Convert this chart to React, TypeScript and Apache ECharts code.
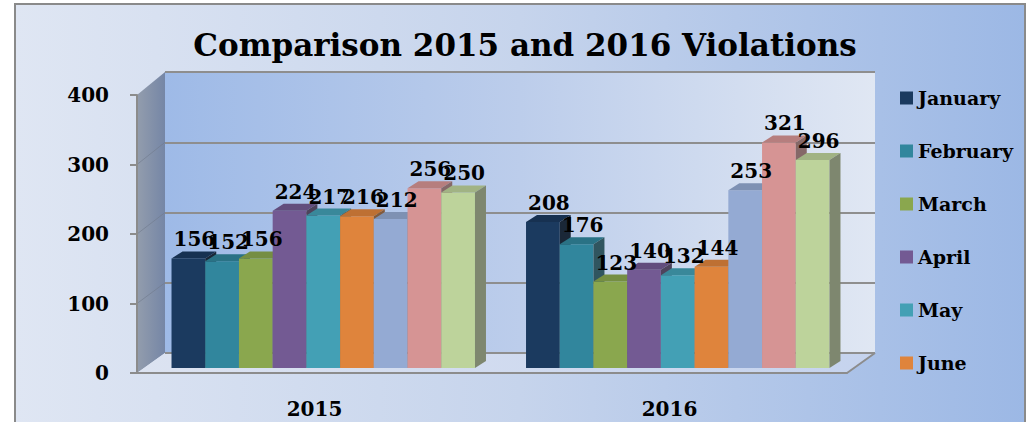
import React, { useEffect, useRef } from "react";
import * as echarts from "echarts";

const years = ["2015", "2016"];
const months = ["January", "February", "March", "April", "May", "June", "July", "August", "September"];
const values2015 = [156, 152, 156, 224, 217, 216, 212, 256, 250];
const values2016 = [208, 176, 123, 140, 132, 144, 253, 321, 296];
const legendMonths = ["January", "February", "March", "April", "May", "June"];
const yTicks = { min: 0, max: 400, interval: 100 };

const colors = ["#1B3A5F", "#31869D", "#8AA74E", "#735A93", "#43A0B5", "#DF843C", "#94AAD3", "#D69494", "#BDD39B"];

const W = 1026;
const H = 422;
const FONT = '"DejaVu Serif", serif';
const FRONT = { left: 137, right: 847, top: 95, base: 373 };
const BACK = { left: 165, right: 875, top: 72, base: 353 };
const BARS = { left: 146, right: 855, top: 87, base: 368 };
const GROUP_RATIO = 0.856;
const DX = 11;
const DY = -7;

function shade(hex: string, f: number, grey = 0) {
  const n = parseInt(hex.slice(1), 16);
  let r = (n >> 16) & 255;
  let g = (n >> 8) & 255;
  let b = n & 255;
  const avg = (r + g + b) / 3;
  r = (r * (1 - grey) + avg * grey) * (1 - f);
  g = (g * (1 - grey) + avg * grey) * (1 - f);
  b = (b * (1 - grey) + avg * grey) * (1 - f);
  return `rgb(${Math.round(r)},${Math.round(g)},${Math.round(b)})`;
}

export default function App() {
  const ref = useRef<HTMLDivElement>(null);
  useEffect(() => {
    document.body.style.margin = "0";
    const chart = echarts.init(ref.current!, null, { renderer: "svg" });

    const barSeries = months.map((m, i) => ({
      type: "custom",
      name: m,
      xAxisIndex: 0,
      yAxisIndex: 0,
      z: 2,
      itemStyle: { color: colors[i] },
      data: [
        [0, values2015[i]],
        [1, values2016[i]],
      ],
      renderItem: (params: any, api: any) => {
        const cat = api.value(0);
        const v = api.value(1);
        const base = api.coord([cat, 0]);
        const top = api.coord([cat, v]);
        const band = api.size([1, 0])[0];
        const gw = band * GROUP_RATIO;
        const bw = gw / months.length;
        const x0 = base[0] - gw / 2 + i * bw;
        const by = base[1];
        const ty = top[1];
        const c = colors[i];
        const topC = shade(c, 0.15);
        const sideC = shade(c, 0.33, 0.35);
        return {
          type: "group",
          children: [
            { type: "rect", shape: { x: x0, y: ty, width: bw, height: by - ty }, style: { fill: c } },
            {
              type: "polygon",
              shape: { points: [[x0, ty], [x0 + DX, ty + DY], [x0 + bw + DX, ty + DY], [x0 + bw, ty]] },
              style: { fill: topC },
            },
            {
              type: "polygon",
              shape: { points: [[x0 + bw, ty], [x0 + bw + DX, ty + DY], [x0 + bw + DX, by + DY], [x0 + bw, by]] },
              style: { fill: sideC },
            },
          ],
        };
      },
    }));

    const labelData: number[][] = [];
    months.forEach((_, i) => {
      labelData.push([0, i, values2015[i]]);
      labelData.push([1, i, values2016[i]]);
    });

    const labelSeries = {
      type: "custom",
      name: "labels",
      xAxisIndex: 0,
      yAxisIndex: 0,
      z: 5,
      encode: { x: 0, y: 2 },
      data: labelData,
      renderItem: (params: any, api: any) => {
        const i = api.value(1);
        const cat = api.value(0);
        const v = api.value(2);
        const base = api.coord([cat, 0]);
        const top = api.coord([cat, v]);
        const band = api.size([1, 0])[0];
        const gw = band * GROUP_RATIO;
        const bw = gw / months.length;
        const x0 = base[0] - gw / 2 + i * bw;
        return {
          type: "text",
          style: {
            text: String(v),
            x: x0 + bw / 2 + 6,
            y: top[1] - 9,
            align: "center",
            verticalAlign: "bottom",
            fontFamily: FONT,
            fontWeight: "bold",
            fontSize: 20,
            fill: "#000",
          },
        };
      },
    };

    const sideLines: any[] = [];
    const fScale = (FRONT.base - FRONT.top) / (yTicks.max - yTicks.min);
    const bScale = (BACK.base - BACK.top) / (yTicks.max - yTicks.min);
    for (let t = yTicks.min + yTicks.interval; t < yTicks.max; t += yTicks.interval) {
      sideLines.push({
        type: "line",
        z: -5,
        shape: { x1: FRONT.left, y1: FRONT.base - t * fScale, x2: BACK.left, y2: BACK.base - t * bScale },
        style: { stroke: "#6F7A8C", lineWidth: 1, opacity: 0.6 },
      });
    }

    const option: any = {
      animation: false,
      title: {
        text: "Comparison 2015 and 2016 Violations",
        left: 520,
        top: 24,
        textAlign: "center",
        textStyle: { fontFamily: FONT, fontWeight: "bold", fontSize: 31, color: "#000" },
      },
      legend: {
        data: legendMonths,
        orient: "vertical",
        left: 895,
        top: 83,
        icon: "rect",
        itemWidth: 13,
        itemHeight: 13,
        itemGap: 33,
        itemTextGap: 6,
        textStyle: { fontFamily: FONT, fontWeight: "bold", fontSize: 19, color: "#000", lineHeight: 20 },
      },
      grid: [
        { left: BARS.left, right: W - BARS.right, top: BARS.top, bottom: H - BARS.base },
        { left: FRONT.left, right: W - FRONT.right, top: FRONT.top, bottom: H - FRONT.base },
        { left: BACK.left, right: W - BACK.right, top: BACK.top, bottom: H - BACK.base },
      ],
      xAxis: [
        { type: "category", gridIndex: 0, data: years, show: false },
        {
          type: "category",
          gridIndex: 1,
          data: years,
          axisLine: { lineStyle: { color: "#8C8C8C", width: 2 } },
          axisTick: { length: 9, lineStyle: { color: "#8C8C8C", width: 2 } },
          axisLabel: { margin: 26, fontFamily: FONT, fontWeight: "bold", fontSize: 20, color: "#000" },
        },
        { type: "category", gridIndex: 2, data: years, show: false },
      ],
      yAxis: [
        { type: "value", gridIndex: 0, ...yTicks, show: false },
        {
          type: "value",
          gridIndex: 1,
          ...yTicks,
          axisLine: { show: true, lineStyle: { color: "#8C8C8C", width: 2 } },
          axisTick: { show: true, length: 7, lineStyle: { color: "#8C8C8C", width: 2 } },
          splitLine: { show: false },
          axisLabel: { margin: 28, fontFamily: FONT, fontWeight: "bold", fontSize: 20, color: "#000" },
        },
        {
          type: "value",
          gridIndex: 2,
          ...yTicks,
          axisLine: { show: false },
          axisTick: { show: false },
          axisLabel: { show: false },
          splitLine: { lineStyle: { color: "#8E8E8E", width: 2 } },
        },
      ],
      graphic: [
        {
          type: "rect",
          z: -100,
          shape: { x: 15, y: 4, width: W - 16, height: H + 10 },
          style: {
            fill: new echarts.graphic.LinearGradient(0, 0, 1, 0, [
              { offset: 0, color: "#DFE6F3" },
              { offset: 0.5, color: "#C6D4EC" },
              { offset: 1, color: "#9CB8E5" },
            ]),
            stroke: "#8A8A8A",
            lineWidth: 2,
          },
        },
        {
          type: "rect",
          z: -50,
          shape: { x: BACK.left, y: BACK.top, width: BACK.right - BACK.left, height: BACK.base - BACK.top },
          style: {
            fill: new echarts.graphic.LinearGradient(0, 0, 1, 0, [
              { offset: 0, color: "#9EBAE7" },
              { offset: 0.5, color: "#BCCDEB" },
              { offset: 1, color: "#E0E7F3" },
            ]),
          },
        },
        {
          type: "polygon",
          z: -10,
          shape: { points: [[FRONT.left, FRONT.top], [BACK.left, BACK.top], [BACK.left, BACK.base], [FRONT.left, FRONT.base]] },
          style: {
            fill: new echarts.graphic.LinearGradient(0, 0, 1, 0, [
              { offset: 0, color: "#939DAD" },
              { offset: 1, color: "#7586A6" },
            ]),
          },
        },
        ...sideLines,
        {
          type: "polygon",
          z: -10,
          shape: { points: [[FRONT.left, FRONT.base], [BACK.left, BACK.base], [BACK.right, BACK.base], [FRONT.right, FRONT.base]] },
          style: {
            fill: new echarts.graphic.LinearGradient(0, 0, 1, 0, [
              { offset: 0, color: "#DCE3F1" },
              { offset: 1, color: "#C5D3EE" },
            ]),
          },
        },
        {
          type: "line",
          z: -5,
          shape: { x1: FRONT.right, y1: FRONT.base, x2: BACK.right, y2: BACK.base },
          style: { stroke: "#8C8C8C", lineWidth: 2 },
        },
      ],
      series: [...barSeries, labelSeries],
    };

    chart.setOption(option);
    return () => chart.dispose();
  }, []);

  return <div ref={ref} style={{ width: W, height: H }} />;
}
